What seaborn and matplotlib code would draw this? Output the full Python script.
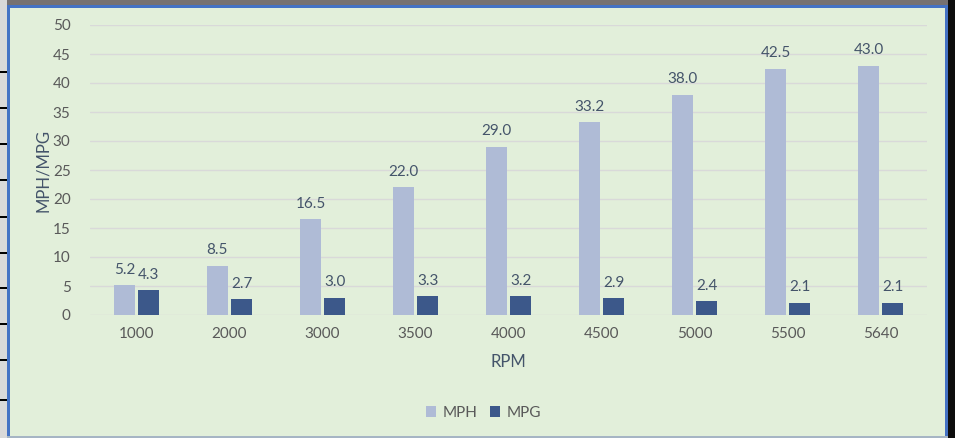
import matplotlib
matplotlib.use("Agg")
import matplotlib.pyplot as plt
import matplotlib.patches as mpatches
import seaborn as sns
import pandas as pd

rpm = ["1000", "2000", "3000", "3500", "4000", "4500", "5000", "5500", "5640"]
mph = [5.2, 8.5, 16.5, 22.0, 29.0, 33.2, 38.0, 42.5, 43.0]
mpg = [4.3, 2.7, 3.0, 3.3, 3.2, 2.9, 2.4, 2.1, 2.1]

bg = "#E2EFDA"
tick_col = "#595959"
lab_col = "#44546A"

sns.set_theme(style="white")
plt.rcParams["font.family"] = ["Lato", "DejaVu Sans"]

df = pd.DataFrame({"RPM": rpm * 2,
                   "val": mph + mpg,
                   "serie": ["MPH"] * len(rpm) + ["MPG"] * len(rpm)})

fig = plt.figure(figsize=(9.55, 4.38), dpi=100, facecolor=bg)
ax = fig.add_axes([90 / 955, 123 / 438, 837 / 955, 290 / 438])
ax.set_facecolor(bg)

sns.barplot(data=df, x="RPM", y="val", hue="serie", order=rpm,
            palette=["#A9B8DC", "#2F5597"], width=0.52, gap=0.12,
            ax=ax, legend=True, zorder=3, linewidth=0)

for cont in ax.containers:
    ax.bar_label(cont, fmt="%.1f", padding=6, fontsize=11, color=lab_col)

ax.set_ylim(0, 50)
ax.set_yticks(range(0, 51, 5))
ax.set_xlim(-0.5, len(rpm) - 0.5)
ax.yaxis.grid(True, color="#D9D9D9", linewidth=1, zorder=0)
ax.set_axisbelow(True)
for s in ax.spines.values():
    s.set_visible(False)
ax.tick_params(axis="both", length=0, labelsize=11, labelcolor=tick_col)
ax.tick_params(axis="y", pad=14)
ax.tick_params(axis="x", pad=9)
ax.set_xlabel("RPM", fontsize=12, color=lab_col, labelpad=9)
ax.set_ylabel("MPH/MPG", fontsize=12, color=lab_col, labelpad=1)

ax.legend(loc="upper center", bbox_to_anchor=(0.47, -0.265), ncol=2,
          frameon=False, fontsize=11, labelcolor=tick_col,
          handlelength=0.7, handleheight=0.7, handletextpad=0.4,
          columnspacing=0.8)

# frame decorations around the chart (sheet edges)
W, H = 955, 438
def rect(x, y, w, h, c):
    fig.patches.append(mpatches.Rectangle((x / W, 1 - (y + h) / H), w / W, h / H,
                                          transform=fig.transFigure, color=c,
                                          zorder=10, linewidth=0))
rect(0, 0, W, 6, "#767171")
rect(0, 0, 7, H, "#D9D9D9")
for yy in [71, 107, 143, 179, 216, 252, 287, 323, 359, 399]:
    rect(0, yy, 7, 2, "#000000")
rect(7, 5, 3, H, "#4472C4")
rect(7, 5, 942, 3, "#4472C4")
rect(945, 5, 3, H, "#4472C4")
rect(948, 0, 7, H, "#0D0D0D")
rect(7, 436, 941, 2, "#A6B5C4")

fig.savefig("out.png", dpi=100, facecolor=bg)
